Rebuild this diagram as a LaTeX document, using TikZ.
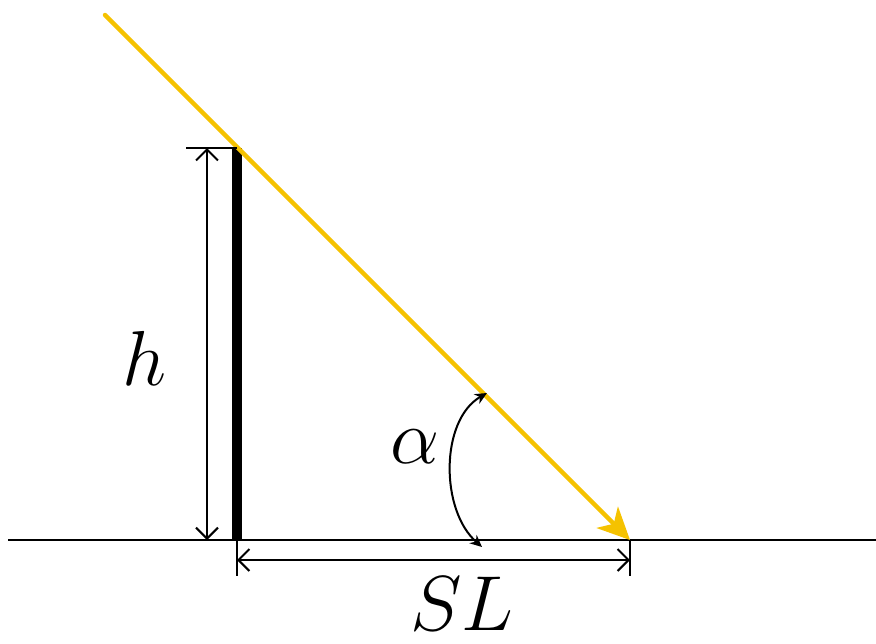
\RequirePackage{fix-cm}
\documentclass[tikz,border=0pt]{standalone}
\usetikzlibrary{arrows.meta}
\definecolor{ray}{HTML}{F5C200}
\tikzset{
  thinline/.style={line width=2pt, black},
  dimarrow/.style={thinline, {Straight Barb[length=11pt,width=22pt,line width=2pt]}-{Straight Barb[length=11pt,width=22pt,line width=2pt]}},
  lbl/.style={font=\fontsize{78}{80}\selectfont, inner sep=0pt, anchor=base}
}
\begin{document}
\begin{tikzpicture}[x=1pt,y=-1pt]
\useasboundingbox (0,0) rectangle (876,643);
% coordinates
\coordinate (gl) at (8,540);
\coordinate (gr) at (876,540);
\coordinate (ptop) at (237,148);
\coordinate (pbot) at (237,540);
\coordinate (rs) at (105,15);
\coordinate (rt) at (630,540);
\coordinate (htop) at (207,148);
\coordinate (hbot) at (207,540);
\coordinate (tickl) at (186,148);
\coordinate (sl1) at (237,560);
\coordinate (sl2) at (630,560);
\coordinate (t1) at (237,576);
\coordinate (t2) at (630,576);
\coordinate (a1) at (487,393);
\coordinate (a2) at (482,547);
% ground
\draw[thinline] (gl) -- (gr);
% pole
\draw[line width=10.5pt] (ptop) -- (pbot);
% ray
\draw[ray, line width=4.5pt, line cap=round, -{Stealth[length=32pt,width=30pt,inset=9pt]}] (rs) -- (rt);
% h dimension
\draw[thinline] (tickl) -- (ptop);
\draw[dimarrow] (htop) -- (hbot);
% SL dimension
\draw[thinline] (pbot) -- (t1);
\draw[thinline] (rt) -- (t2);
\draw[dimarrow] (sl1) -- (sl2);
% alpha arc
\draw[thinline, {Stealth[length=12pt,width=11pt]}-{Stealth[length=12pt,width=11pt]}] (a1) .. controls (440,420) and (440,510) .. (a2);
% labels
\node[lbl] (h) at (144,385) {$h$};
\node[lbl] (sl) at (462,630) {$SL$};
\node[lbl] (al) at (415,463) {$\alpha$};
\end{tikzpicture}
\end{document}
